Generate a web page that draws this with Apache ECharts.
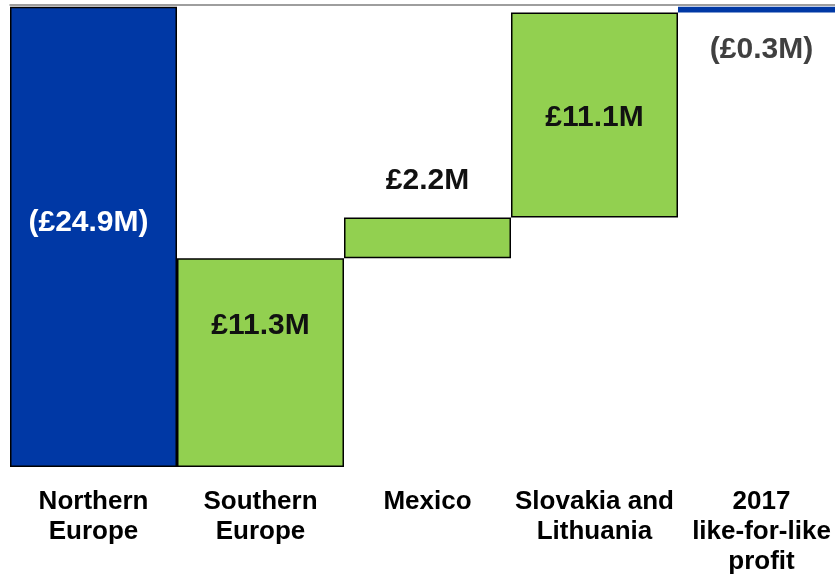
<!DOCTYPE html>
<html>
<head>
<meta charset="utf-8">
<script src="https://cdn.jsdelivr.net/npm/echarts@6/dist/echarts.min.js"></script>
<style>html,body{margin:0;padding:0;background:#fff;overflow:hidden;width:835px;height:577px;}#c{width:845px;height:577px;}</style>
</head>
<body>
<div id="c"></div>
<script>
var categories = ['Northern\nEurope', 'Southern\nEurope', 'Mexico', 'Slovakia and\nLithuania', '2017\nlike-for-like\nprofit'];
var values = [-24.9, 11.3, 2.2, 11.1, -0.3];
var kinds = ['total', 'step', 'step', 'step', 'total'];

var BLUE = '#0038A5', GREEN = '#92D050';
var labelStyles = [
  {position: 'inside', offset: [-5, -14], color: '#ffffff'},
  {position: 'inside', offset: [0, -37], color: '#111111'},
  {position: 'top', distance: 22, color: '#111111'},
  {position: 'inside', offset: [0, 3], color: '#111111'},
  {position: 'bottom', distance: 22, color: '#404040'}
];

function fmt(v) {
  var s = '£' + Math.abs(v).toFixed(1) + 'M';
  return v < 0 ? '(' + s + ')' : s;
}

var bases = [], heights = [];
var run = 0;
for (var i = 0; i < values.length; i++) {
  bases.push(i === 0 ? 0 : run);
  if (i > 0) run += Math.abs(values[i]);
  heights.push(Math.abs(values[i]));
}

var chart = echarts.init(document.getElementById('c'));
chart.setOption({
  animation: false,
  grid: {left: 10, right: 0, top: 5, height: 462},
  xAxis: [{
    type: 'category', data: categories,
    axisLine: {show: false}, axisTick: {show: false},
    axisLabel: {interval: 0, margin: 20, fontFamily: 'Arial, "Liberation Sans"', fontWeight: 'bold', fontSize: 26, lineHeight: 30, color: '#000'}
  }, {
    type: 'category', data: categories, position: 'top',
    axisLine: {show: true, lineStyle: {color: '#7f7f7f', width: 1.5}},
    axisTick: {show: false}, axisLabel: {show: false}
  }],
  yAxis: {type: 'value', min: 0, max: 25, show: false, splitLine: {show: false}},
  series: [{
    type: 'bar', stack: 'w', barCategoryGap: 0, silent: true,
    itemStyle: {color: 'transparent'},
    data: bases
  }, {
    type: 'bar', stack: 'w', barCategoryGap: 0,
    data: heights.map(function (h, i) {
      var ls = labelStyles[i];
      var lab = {show: true, formatter: fmt(values[i]), fontFamily: 'Arial, "Liberation Sans"', fontWeight: 'bold', fontSize: 30, color: ls.color, position: ls.position};
      if (ls.offset) lab.offset = ls.offset;
      if (ls.distance != null) lab.distance = ls.distance;
      return {
        value: h,
        itemStyle: {
          color: kinds[i] === 'total' ? BLUE : GREEN,
          borderColor: i === 4 ? BLUE : '#000',
          borderWidth: i === 4 ? 0 : 1.5
        },
        label: lab
      };
    })
  }]
});
</script>
</body>
</html>
